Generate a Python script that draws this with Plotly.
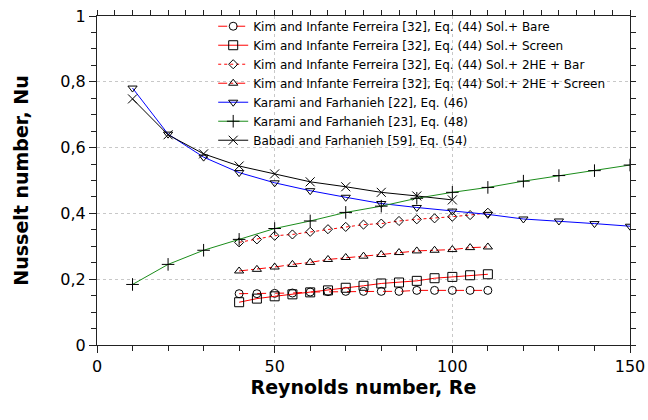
import plotly.graph_objects as go

# ---- data ----
re_kim = [40, 45, 50, 55, 60, 65, 70, 75, 80, 85, 90, 95, 100, 105, 110]
nu_bare = [0.156, 0.156, 0.157, 0.158, 0.161, 0.162, 0.163, 0.163, 0.163, 0.163, 0.166, 0.166, 0.166, 0.166, 0.166]
nu_screen = [0.130, 0.141, 0.148, 0.154, 0.160, 0.166, 0.174, 0.180, 0.187, 0.190, 0.195, 0.203, 0.207, 0.212, 0.215]
nu_2he_bar = [0.312, 0.321, 0.332, 0.336, 0.344, 0.352, 0.359, 0.366, 0.369, 0.377, 0.382, 0.385, 0.390, 0.395, 0.402]
nu_2he_screen = [0.225, 0.230, 0.237, 0.245, 0.251, 0.260, 0.266, 0.270, 0.275, 0.281, 0.286, 0.288, 0.290, 0.296, 0.298]

re_karami = [10, 20, 30, 40, 50, 60, 70, 80, 90, 100, 110, 120, 130, 140, 150]
nu_karami46 = [0.781, 0.641, 0.571, 0.524, 0.493, 0.469, 0.449, 0.430, 0.418, 0.407, 0.397, 0.383, 0.377, 0.369, 0.361]
nu_karami48 = [0.184, 0.245, 0.288, 0.321, 0.354, 0.377, 0.403, 0.422, 0.446, 0.464, 0.479, 0.498, 0.515, 0.530, 0.547]

re_babadi = [10, 20, 30, 40, 50, 60, 70, 80, 90, 100]
nu_babadi = [0.748, 0.639, 0.581, 0.544, 0.520, 0.496, 0.481, 0.464, 0.453, 0.441]

names = [
    "Kim and Infante Ferreira [32], Eq. (44) Sol.+ Bare",
    "Kim and Infante Ferreira [32], Eq. (44) Sol.+ Screen",
    "Kim and Infante Ferreira [32], Eq. (44) Sol.+ 2HE + Bar",
    "Kim and Infante Ferreira [32], Eq. (44) Sol.+ 2HE + Screen",
    "Karami and Farhanieh [22], Eq. (46)",
    "Karami and Farhanieh [23], Eq. (48)",
    "Babadi and Farhanieh [59], Eq. (54)",
]

FONT = "DejaVu Sans"

fig = go.Figure()

def add(x, y, name, color, dash, symbol, size=8):
    fig.add_trace(go.Scatter(
        x=x, y=y, name=name, mode="lines+markers",
        line=dict(color=color, width=1, dash=dash),
        marker=dict(symbol=symbol, size=size, color="black",
                    line=dict(color="black", width=1)),
    ))

add(re_kim, nu_bare, names[0], "#ff0000", "dash", "circle-open", 8)
add(re_kim, nu_screen, names[1], "#ff0000", "solid", "square-open", 9)
add(re_kim, nu_2he_bar, names[2], "#ff0000", "dot", "diamond-open", 7)
add(re_kim, nu_2he_screen, names[3], "#ff0000", "dashdot", "triangle-up-open", 8)
add(re_karami, nu_karami46, names[4], "#0000ff", "solid", "triangle-down-open", 8)
add(re_karami, nu_karami48, names[5], "#1a8c1a", "solid", "cross-thin-open", 9)
add(re_babadi, nu_babadi, names[6], "#000000", "solid", "x-thin-open", 9)

# invisible traces for mirrored axes with their own ticks
fig.add_trace(go.Scatter(x=[None], y=[None], xaxis="x2", yaxis="y", showlegend=False, hoverinfo="skip"))
fig.add_trace(go.Scatter(x=[None], y=[None], xaxis="x", yaxis="y2", showlegend=False, hoverinfo="skip"))

axcol = "#222222"
fig.update_layout(
    width=648, height=420,
    margin=dict(l=97, r=18, t=16, b=75, autoexpand=False),
    paper_bgcolor="white", plot_bgcolor="white",
    separators=", ",
    font=dict(family=FONT, color="black", size=16),
    showlegend=True,
    legend=dict(x=0.218, y=1.013, xanchor="left", yanchor="top",
                bgcolor="rgba(0,0,0,0)", font=dict(size=12, family=FONT),
                tracegroupgap=0, itemwidth=30),
    xaxis=dict(range=[0, 150], dtick=50, tick0=0, showline=True, linecolor=axcol, linewidth=1,
               ticks="outside", ticklen=7, tickcolor=axcol, tickfont=dict(size=16),
               minor=dict(dtick=10, ticks="outside", ticklen=5, tickcolor=axcol, showgrid=False),
               showgrid=True, gridcolor="#c8c8c8", griddash="dot", gridwidth=1,
               zeroline=False, mirror=False, automargin=False,
               title=dict(text="<b>Reynolds number, Re</b>", font=dict(size=19), standoff=5)),
    xaxis2=dict(range=[0, 150], overlaying="x", side="top", anchor="y", showline=True,
                linecolor=axcol, linewidth=1, ticks="outside", dtick=5, tick0=0, ticklen=5,
                tickcolor=axcol, showticklabels=False, showgrid=False, zeroline=False,
                automargin=False),
    yaxis=dict(range=[0, 1], dtick=0.2, tick0=0, showline=True, linecolor=axcol, linewidth=1,
               ticks="outside", ticklen=7, tickcolor=axcol, tickfont=dict(size=16),
               minor=dict(dtick=0.05, ticks="outside", ticklen=5, tickcolor=axcol, showgrid=False),
               showgrid=True, gridcolor="#c8c8c8", griddash="dot", gridwidth=1,
               zeroline=False, mirror=False, automargin=False,
               title=dict(text="<b>Nusselt number, Nu</b>", font=dict(size=19), standoff=26)),
    yaxis2=dict(range=[0, 1], overlaying="y", side="right", anchor="x", showline=True,
                linecolor=axcol, linewidth=1, ticks="outside", dtick=0.05, tick0=0, ticklen=5,
                tickcolor=axcol, showticklabels=False, showgrid=False, zeroline=False,
                automargin=False),
)

fig.write_html("out.html")
